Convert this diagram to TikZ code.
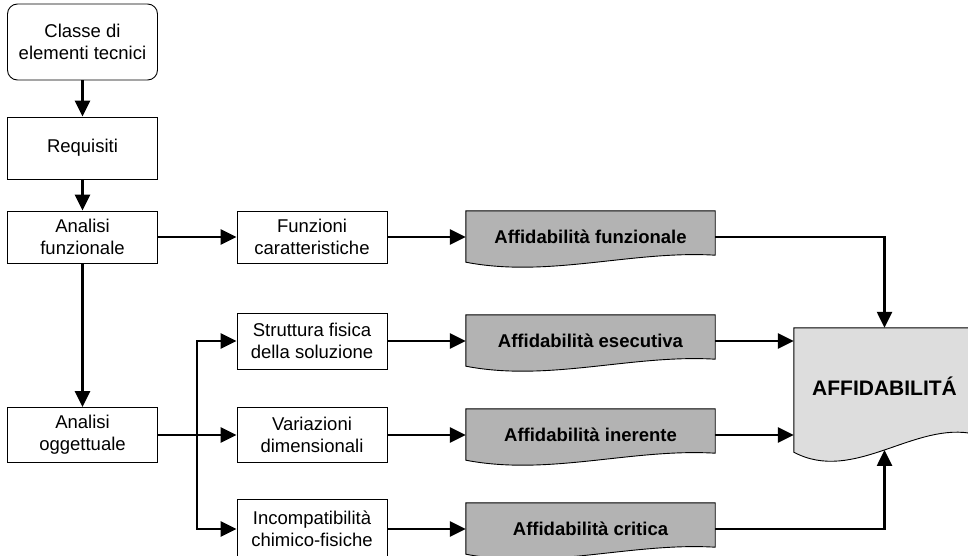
\documentclass[tikz,border=0pt]{standalone}
\usepackage{fontspec}
\setmainfont{Liberation Sans}
\usetikzlibrary{arrows.meta,backgrounds}
\definecolor{docgray}{HTML}{B3B3B3}
\definecolor{docpale}{HTML}{DDDDDD}
\tikzset{
  box/.style={draw, line width=0.9pt, minimum width=150pt, minimum height=52pt,
    align=center, inner sep=0pt, font=\fontsize{18.5}{22}\selectfont},
  docbox/.style={minimum width=249pt, minimum height=52pt, align=center,
    inner sep=0pt, font=\fontsize{18.5}{22}\selectfont\bfseries},
  conn/.style={line width=2.5pt, -{Triangle[length=16pt,width=15pt]}},
}
\begin{document}
\begin{tikzpicture}[x=1pt,y=-1pt]
\useasboundingbox (0,0) rectangle (968,556);

% left column
\node[box, rounded corners=10pt, minimum height=76pt] (cl) at (82.5,42) {Classe di\\elementi tecnici};
\node[box, minimum height=62pt] (rq) at (82.5,148) {Requisiti};
\node[box] (fz) at (82.5,237) {Analisi\\funzionale};
\node[box, minimum height=55pt] (og) at (82.5,435) {Analisi\\oggettuale};

% middle column
\node[box] (fc) at (312,237) {Funzioni\\caratteristiche};
\node[box, minimum height=56pt] (sf) at (312,341) {Struttura fisica\\della soluzione};
\node[box, minimum height=55pt] (vd) at (312,435) {Variazioni\\dimensionali};
\node[box, minimum height=60pt] (ic) at (312,529) {Incompatibilità\\chimico-fisiche};

% reliability documents
\node[docbox] (af) at (590.5,237) {Affidabilità funzionale};
\node[docbox] (ae) at (590.5,341) {Affidabilità esecutiva};
\node[docbox] (ai) at (590.5,435) {Affidabilità inerente};
\node[docbox] (ac) at (590.5,529) {Affidabilità critica};
\node[docbox, minimum width=181pt, minimum height=116pt,
  font=\fontsize{21}{25}\selectfont\bfseries] (AF) at (884.5,386) {AFFIDABILITÁ};

\begin{pgfonlayer}{background}
\foreach \n in {af,ae,ai,ac}
  \filldraw[line width=0.9pt, fill=docgray] (\n.north west) -- (\n.north east)
    -- ([yshift=8pt]\n.south east)
    .. controls ([xshift=-83pt,yshift=13pt]\n.south east) and ([xshift=83pt,yshift=-15pt]\n.south west)
    .. ([yshift=1pt]\n.south west) -- cycle;
\filldraw[line width=0.9pt, fill=docpale] (AF.north east) -- (AF.north west)
  -- ([yshift=-8pt]AF.south west)
  .. controls ([xshift=60.3pt,yshift=-40pt]AF.south west) and ([xshift=-60.3pt,yshift=24pt]AF.south east)
  .. ([yshift=10pt]AF.south east) coordinate[pos=0.5] (afb) -- cycle;
\end{pgfonlayer}

% connectors
\draw[conn] (cl) -- (rq);
\draw[conn] (rq) -- (fz);
\draw[conn] (fz) -- (og);
\draw[conn] (fz) -- (fc);
\draw[conn] (fc) -- (af);
\draw[conn] (sf) -- (ae);
\draw[conn] (vd) -- (ai);
\draw[conn] (ic) -- (ac);
\draw[conn] (og) -- (vd);
\coordinate (br) at (197,435);
\draw[conn] (br) |- (sf.west);
\draw[conn] (br) |- (ic.west);
\draw[conn] (af.east) -| (AF.north);
\draw[conn] (ae.east) -- (ae.east -| AF.west);
\draw[conn] (ai.east) -- (ai.east -| AF.west);
\draw[conn] (ac.east) -| (afb);
\end{tikzpicture}
\end{document}
